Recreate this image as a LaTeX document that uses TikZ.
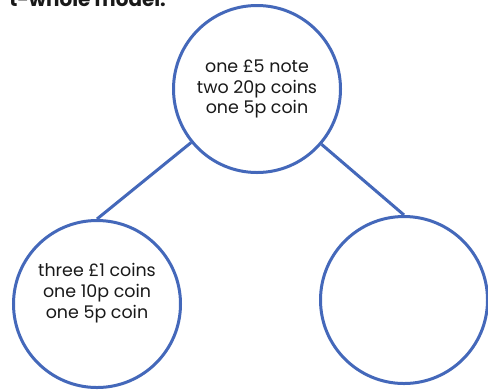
\documentclass[tikz,border=0pt]{standalone}
\usepackage{fontspec}
\setmainfont{Poppins}
\definecolor{ringblue}{RGB}{68,104,186}
\definecolor{txt}{RGB}{25,25,25}
\begin{document}
\begin{tikzpicture}[x=1bp,y=-1bp,
  ring/.style={circle,draw=ringblue,line width=3bp,minimum size=167bp,inner sep=0pt,
    align=center,font=\fontsize{17.5}{21}\selectfont,text=txt},
  link/.style={draw=ringblue,line width=3bp}]
\clip (0,0) rectangle (488,390);
\fill[white] (0,0) rectangle (488,390);
\node[anchor=base east,font=\bfseries\fontsize{20}{24}\selectfont,text=txt,inner sep=0pt] (title) at (166,6.5) {t-whole model.};
\node[ring] (top) at (257,89) {one £5 note\\two 20p coins\\one 5p coin};
\node[ring] (left) at (97,304) {three £1 coins\\one 10p coin\\one 5p coin\\[6bp]};
\node[ring] (right) at (404,300) {};
\draw[link] (top) -- (left.north);
\draw[link] (top) -- (right.north);
\end{tikzpicture}
\end{document}
